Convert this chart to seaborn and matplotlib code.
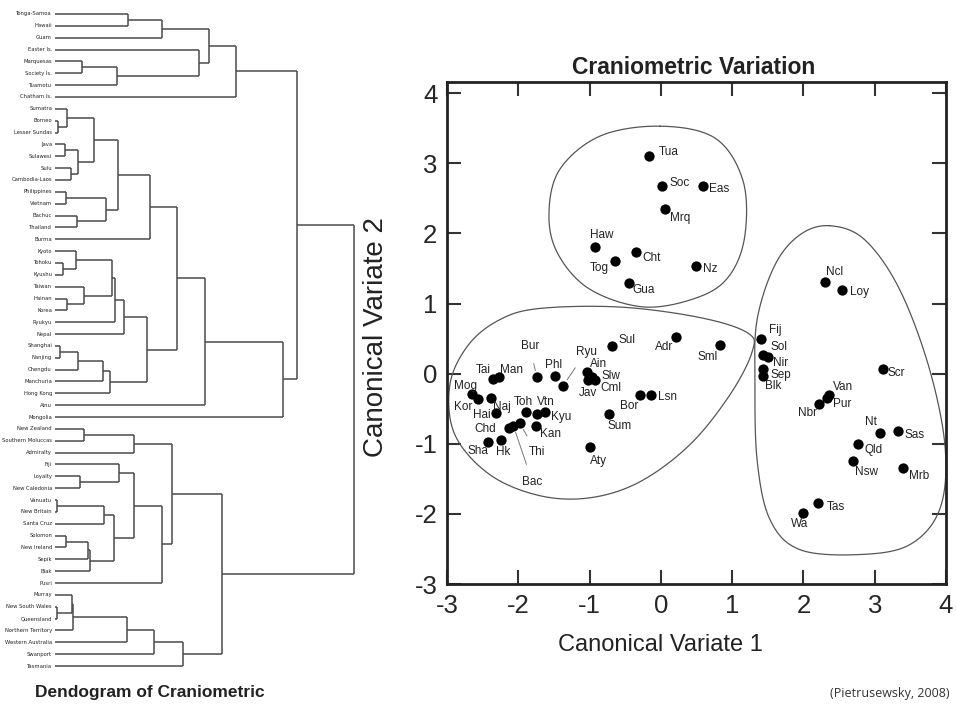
import matplotlib
matplotlib.use("Agg")
import matplotlib.pyplot as plt
import seaborn as sns
import numpy as np
import pandas as pd

# ---- dendrogram data (leaves listed top to bottom) ----
leaf_names = [
    "Tonga-Samoa", "Hawaii", "Guam", "Easter Is.", "Marquesas", "Society Is.",
    "Tuamotu", "Chatham Is.", "Sumatra", "Borneo", "Lesser Sundas", "Java",
    "Sulawesi", "Sulu", "Cambodia-Laos", "Philippines", "Vietnam", "Bachuc",
    "Thailand", "Burma", "Kyoto", "Tohoku", "Kyushu", "Taiwan", "Hainan",
    "Korea", "Ryukyu", "Nepal", "Shanghai", "Nanjing", "Chengdu", "Manchuria",
    "Hong Kong", "Ainu", "Mongolia", "New Zealand", "Southern Moluccas",
    "Admiralty", "Fiji", "Loyalty", "New Caledonia", "Vanuatu", "New Britain",
    "Santa Cruz", "Solomon", "New Ireland", "Sepik", "Biak", "Pusri", "Murray",
    "New South Wales", "Queensland", "Northern Territory", "Western Australia",
    "Swanport", "Tasmania",
]

# (node, child, child, merge height)
merges = [
    ("p1", "Tonga-Samoa", "Hawaii", 73),
    ("p2", "p1", "Guam", 107),
    ("p3", "Marquesas", "Society Is.", 27),
    ("p4", "p3", "Tuamotu", 62),
    ("p5", "Easter Is.", "p4", 144),
    ("p6", "p2", "p5", 154),
    ("poly", "p6", "Chatham Is.", 181),
    ("s1", "Borneo", "Lesser Sundas", 3),
    ("s2", "Sumatra", "s1", 12),
    ("s3", "Java", "Sulawesi", 10),
    ("s4", "Sulu", "Cambodia-Laos", 16),
    ("s5", "s3", "s4", 23),
    ("s6", "s2", "s5", 39),
    ("s7", "Philippines", "Vietnam", 11),
    ("s8", "Bachuc", "Thailand", 22),
    ("s9", "s7", "s8", 51),
    ("s10", "s6", "s9", 63),
    ("s11", "s10", "Burma", 95),
    ("e1", "Tohoku", "Kyushu", 8),
    ("e2", "Kyoto", "e1", 21),
    ("e3", "Hainan", "Korea", 12),
    ("e4", "Taiwan", "e3", 29),
    ("e5", "e2", "e4", 57),
    ("e6", "e5", "Ryukyu", 60),
    ("e7", "e6", "Nepal", 69),
    ("c1", "Shanghai", "Nanjing", 5),
    ("c2", "c1", "Chengdu", 23),
    ("c3", "c2", "Manchuria", 48),
    ("c4", "c3", "Hong Kong", 55),
    ("e8", "e7", "c4", 92),
    ("a1", "s11", "e8", 122),
    ("a2", "a1", "Ainu", 150),
    ("asia", "a2", "Mongolia", 228),
    ("top", "poly", "asia", 242),
    ("m1", "New Zealand", "Southern Moluccas", 29),
    ("m2", "m1", "Admiralty", 79),
    ("m3", "Loyalty", "New Caledonia", 25),
    ("m4", "Fiji", "m3", 64),
    ("m5", "Vanuatu", "New Britain", 2),
    ("m6", "m5", "Santa Cruz", 49),
    ("m7", "Solomon", "New Ireland", 11),
    ("m8", "m7", "Sepik", 33),
    ("m9", "m8", "Biak", 35),
    ("m10", "m6", "m9", 59),
    ("m11", "m4", "m10", 79),
    ("m12", "m11", "Pusri", 107),
    ("mel", "m2", "m12", 117),
    ("au1", "New South Wales", "Queensland", 2),
    ("au2", "Murray", "au1", 17),
    ("au3", "au2", "Northern Territory", 18),
    ("au4", "au3", "Western Australia", 72),
    ("au5", "au4", "Swanport", 99),
    ("aus", "au5", "Tasmania", 128),
    ("south", "mel", "aus", 167),
    ("root", "top", "south", 299),
]

# ---- canonical variate scores ----
codes = ["Tua", "Soc", "Eas", "Mrq", "Haw", "Cht", "Tog", "Nz", "Gua",
         "Sul", "Adr", "Sml", "Bur", "Phl", "Ryu", "Tai", "Man", "Mog", "Kor",
         "Naj", "Hai", "Toh", "Vtn", "Kyu", "Chd", "Bac", "Thi", "Kan", "Sha",
         "Hk", "Ain", "Slw", "Jav", "Cml", "Bor", "Lsn", "Sum", "Aty",
         "Ncl", "Loy", "Fij", "Sol", "Nir", "Sep", "Blk", "Scr", "Van", "Pur",
         "Nbr", "Nt", "Sas", "Qld", "Nsw", "Mrb", "Tas", "Wa"]
cv1 = [-0.16, 0.02, 0.59, 0.06, -0.92, -0.35, -0.65, 0.49, -0.45,
       -0.68, 0.21, 0.83, -1.74, -1.49, -1.37, -2.35, -2.27, -2.65, -2.57,
       -2.38, -2.31, -1.89, -1.74, -1.63, -2.13, -2.07, -1.98, -1.75, -2.42,
       -2.24, -1.04, -0.96, -1.02, -0.93, -0.29, -0.14, -0.73, -1.00,
       2.30, 2.54, 1.41, 1.43, 1.50, 1.43, 1.43, 3.11, 2.36, 2.33,
       2.22, 3.08, 3.33, 2.77, 2.69, 3.40, 2.20, 1.99]
cv2 = [3.11, 2.68, 2.68, 2.35, 1.80, 1.73, 1.61, 1.53, 1.30,
       0.39, 0.52, 0.41, -0.05, -0.04, -0.17, -0.07, -0.05, -0.29, -0.36,
       -0.34, -0.56, -0.54, -0.57, -0.55, -0.77, -0.74, -0.71, -0.75, -0.98,
       -0.95, 0.02, -0.05, -0.09, -0.09, -0.31, -0.31, -0.57, -1.05,
       1.31, 1.19, 0.49, 0.26, 0.24, 0.07, -0.04, 0.07, -0.30, -0.35,
       -0.43, -0.84, -0.82, -1.01, -1.24, -1.34, -1.85, -1.99]

# hand-drawn group outlines (data units)
outline_polynesia = [(-0.01, 3.53), (0.76, 3.36), (1.15, 2.76), (1.18, 1.98),
                     (0.97, 1.41), (0.55, 1.10), (-0.22, 0.95), (-0.99, 1.20),
                     (-1.44, 1.70), (-1.57, 2.27), (-1.42, 2.91), (-0.85, 3.39)]
outline_asia = [(-1.70, 0.93), (-0.57, 0.95), (0.55, 0.80), (1.22, 0.58),
                (1.28, 0.31), (0.97, -0.30), (0.41, -1.01), (-0.29, -1.54),
                (-0.99, -1.77), (-1.70, -1.74), (-2.40, -1.44), (-2.89, -0.87),
                (-2.96, -0.16), (-2.70, 0.41), (-2.26, 0.77)]
outline_australomel = [(2.37, 2.11), (2.86, 1.91), (3.35, 1.20), (3.77, 0.06),
                       (3.99, -1.08), (3.91, -1.94), (3.49, -2.44), (2.79, -2.58),
                       (1.95, -2.51), (1.53, -2.08), (1.35, -1.23), (1.32, -0.09),
                       (1.35, 0.77), (1.60, 1.55), (1.95, 1.98)]

# label placement: code -> (dx px, dy px, ha)
label_pos = {
    "Tua": (9, 4, "left"), "Soc": (7, 3, "left"), "Eas": (6, -3, "left"),
    "Mrq": (5, -9, "left"), "Haw": (-5, 12, "left"), "Cht": (6, -6, "left"),
    "Tog": (-6, -7, "right"), "Nz": (7, -3, "left"), "Gua": (4, -7, "left"),
    "Sul": (6, 6, "left"), "Adr": (-3, -10, "right"), "Sml": (-2, -12, "right"),
    "Bur": (-7, 31, "center"), "Phl": (-1, 11, "center"), "Ryu": (23, 34, "center"),
    "Tai": (-3, 9, "right"), "Man": (1, 7, "left"), "Mog": (-6, 8, "center"),
    "Kor": (-5, -8, "right"), "Naj": (2, -9, "left"), "Hai": (-6, -2, "right"),
    "Toh": (-3, 10, "center"), "Vtn": (0, 12, "left"), "Kyu": (6, -5, "left"),
    "Chd": (-13, -1, "right"), "Bac": (19, -56, "center"), "Thi": (17, -29, "center"),
    "Kan": (4, -8, "left"), "Sha": (-10, -9, "center"), "Hk": (2, -12, "center"),
    "Ain": (3, 8, "left"), "Slw": (9, 1, "left"), "Jav": (0, -13, "center"),
    "Cml": (6, -8, "left"), "Bor": (-2, -11, "right"), "Lsn": (7, -2, "left"),
    "Sum": (-1, -12, "left"), "Aty": (0, -14, "left"),
    "Ncl": (1, 10, "left"), "Loy": (8, -2, "left"), "Fij": (8, 9, "left"),
    "Sol": (8, 8, "left"), "Nir": (5, -6, "left"), "Sep": (8, -6, "left"),
    "Blk": (2, -10, "left"), "Scr": (5, -4, "left"), "Van": (4, 8, "left"),
    "Pur": (6, -6, "left"), "Nbr": (-2, -9, "right"), "Nt": (-4, 11, "right"),
    "Sas": (6, -4, "left"), "Qld": (6, -6, "left"), "Nsw": (2, -11, "left"),
    "Mrb": (6, -8, "left"), "Tas": (9, -4, "left"), "Wa": (-3, -11, "center"),
}
leader_labels = ["Bur", "Ryu", "Thi", "Bac"]


def closed_spline(pts, n=40):
    # periodic Catmull-Rom through the outline points
    p = np.asarray(pts, dtype=float)
    k = len(p)
    out = []
    for i in range(k):
        p0, p1, p2, p3 = p[(i - 1) % k], p[i], p[(i + 1) % k], p[(i + 2) % k]
        t = np.linspace(0, 1, n, endpoint=False)[:, None]
        seg = 0.5 * ((2 * p1) + (-p0 + p2) * t + (2 * p0 - 5 * p1 + 4 * p2 - p3) * t ** 2
                     + (-p0 + 3 * p1 - 3 * p2 + p3) * t ** 3)
        out.append(seg)
    out = np.vstack(out)
    return np.vstack([out, out[:1]])


sns.set_theme(style="white")
plt.rcParams["font.family"] = ["Liberation Sans", "DejaVu Sans"]
plt.rcParams["axes.unicode_minus"] = False

W, H = 956, 715
fig = plt.figure(figsize=(W / 100, H / 100), dpi=100)

# ---- dendrogram ----
axd = fig.add_axes([55 / W, 1 - 666 / H, 299 / W, 652 / H])
axd.set_xlim(0, 299)
axd.set_ylim(len(leaf_names) - 1, 0)
axd.axis("off")

ypos = {name: i for i, name in enumerate(leaf_names)}
hgt = {name: 0 for name in leaf_names}
dcol = "#4a4a4a"
for node, a, b, h in merges:
    ya, yb = ypos[a], ypos[b]
    axd.plot([hgt[a], h], [ya, ya], color=dcol, lw=1.1, clip_on=False, solid_capstyle="butt")
    axd.plot([hgt[b], h], [yb, yb], color=dcol, lw=1.1, clip_on=False, solid_capstyle="butt")
    axd.plot([h, h], [ya, yb], color=dcol, lw=1.1, clip_on=False, solid_capstyle="butt")
    ypos[node] = (ya + yb) / 2
    hgt[node] = h

for i, name in enumerate(leaf_names):
    axd.text(-3, i, name, ha="right", va="center", fontsize=3.8, color="#222222",
             family=["Liberation Sans Narrow", "DejaVu Sans"])

fig.text(150 / W, 1 - 692 / H, "Dendogram of Craniometric", ha="center", va="center",
         fontsize=12.5, fontweight="bold", color="#222222")

# ---- canonical variate scatter ----
ax = fig.add_axes([447 / W, 1 - 584 / H, 499 / W, 502 / H])
df = pd.DataFrame({"code": codes, "cv1": cv1, "cv2": cv2})

for outline in (outline_polynesia, outline_asia, outline_australomel):
    c = closed_spline(outline)
    ax.plot(c[:, 0], c[:, 1], color="#555555", lw=0.9)

sns.scatterplot(data=df, x="cv1", y="cv2", ax=ax, color="black", s=55,
                edgecolor="black", linewidth=0, zorder=3)

for _, r in df.iterrows():
    dx, dy, ha = label_pos[r["code"]]
    if r["code"] in leader_labels:
        ax.annotate(r["code"], (r["cv1"], r["cv2"]), xytext=(dx, dy),
                    textcoords="offset pixels", ha=ha, va="center", fontsize=8.5,
                    color="#222222",
                    arrowprops=dict(arrowstyle="-", color="#777777", lw=0.7,
                                    shrinkA=6, shrinkB=5))
    else:
        ax.annotate(r["code"], (r["cv1"], r["cv2"]), xytext=(dx, dy),
                    textcoords="offset pixels", ha=ha, va="center", fontsize=8.5,
                    color="#222222")

ax.set_xlim(-3, 4)
ax.set_ylim(-3, 4.16)
ax.set_xticks(range(-3, 5))
ax.set_yticks(range(-3, 5))
ax.set_xlabel("")
ax.set_ylabel("")
ax.tick_params(direction="in", length=10, width=1.5, labelsize=18.5, top=True, right=True,
               bottom=True, left=True, color="#333333", pad=7)
for sp in ax.spines.values():
    sp.set_linewidth(2)
    sp.set_color("#222222")

fig.text(694 / W, 1 - 68 / H, "Craniometric Variation", ha="center", va="center",
         fontsize=16.5, fontweight="bold", color="#222222")
fig.text(660 / W, 1 - 645 / H, "Canonical Variate 1", ha="center", va="center",
         fontsize=17, color="#222222")
fig.text(376 / W, 1 - 337 / H, "Canonical Variate 2", ha="center", va="center",
         fontsize=20, rotation=90, color="#222222")
fig.text(950 / W, 1 - 693 / H, "(Pietrusewsky, 2008)", ha="right", va="center",
         fontsize=9, color="#333333", family=["Open Sans", "DejaVu Sans"])

fig.savefig("out.png", dpi=100)
